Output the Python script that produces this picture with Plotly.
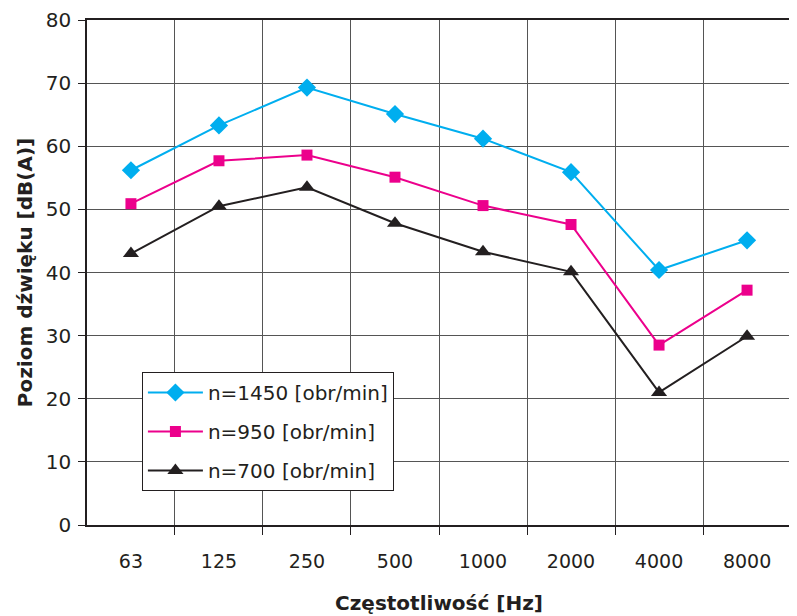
import plotly.graph_objects as go

freqs = ["63", "125", "250", "500", "1000", "2000", "4000", "8000"]
n1450 = [56.2, 63.3, 69.3, 65.1, 61.2, 55.9, 40.4, 45.1]
n950 = [50.9, 57.7, 58.6, 55.1, 50.6, 47.6, 28.5, 37.2]
n700 = [43.0, 50.5, 53.5, 47.8, 43.3, 40.1, 21.0, 29.9]

FONT = "DejaVu Sans, Liberation Sans, Arial, sans-serif"

fig = go.Figure()
fig.add_trace(go.Scatter(x=freqs, y=n1450, mode="lines+markers", name="n=1450 [obr/min]",
                         line=dict(color="#00AEEF", width=2),
                         marker=dict(symbol="diamond", size=14, color="#00AEEF"), legendgroup="a"))
fig.add_trace(go.Scatter(x=freqs, y=n950, mode="lines+markers", name="n=950 [obr/min]",
                         line=dict(color="#EC008C", width=2),
                         marker=dict(symbol="square", size=11, color="#EC008C"), legendgroup="b"))
fig.add_trace(go.Scatter(x=freqs, y=n700, mode="lines+markers", name="n=700 [obr/min]",
                         line=dict(color="#231F20", width=2),
                         marker=dict(symbol="triangle-up", size=14, color="#231F20"), legendgroup="c"))

fig.update_layout(
    width=789, height=608,
    margin=dict(l=79, r=6, t=12, b=91),
    paper_bgcolor="white", plot_bgcolor="white",
    font=dict(family=FONT, color="#231F20"),
    legend=dict(x=0.078, y=0.303, xanchor="left", yanchor="top",
                bgcolor="white", bordercolor="#231F20", borderwidth=1,
                font=dict(size=20), tracegroupgap=10, itemwidth=55),
)
fig.update_xaxes(type="category", tickson="boundaries", ticks="outside", ticklen=8,
                 tickcolor="#231F20", showgrid=True, gridcolor="#555555", gridwidth=1,
                 showline=True, linecolor="#231F20", linewidth=1.5, mirror=True,
                 tickfont=dict(size=19), automargin=False, ticklabelstandoff=18,
                 title=dict(text="<b>Częstotliwość [Hz]</b>", font=dict(size=20), standoff=25))
fig.update_yaxes(range=[0, 80], dtick=10, ticks="outside", ticklen=7, tickcolor="#231F20",
                 showgrid=True, gridcolor="#555555", gridwidth=1,
                 showline=True, linecolor="#231F20", linewidth=1.5, mirror=True,
                 zeroline=False, tickfont=dict(size=20), automargin=False, ticklabelstandoff=3,
                 title=dict(text="<b>Poziom dźwięku [dB(A)]</b>", font=dict(size=20), standoff=8))

fig.write_html("out.html")
